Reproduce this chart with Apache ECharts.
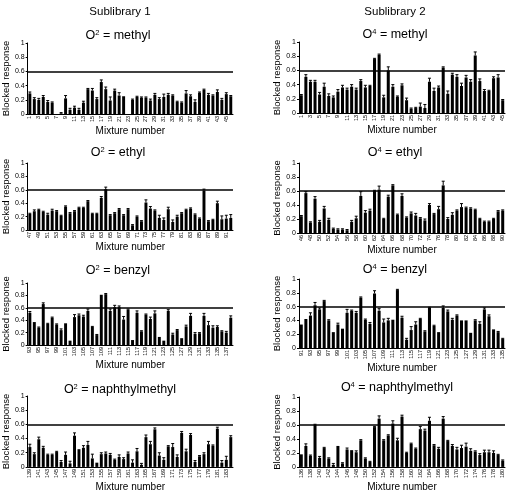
<!DOCTYPE html>
<html><head><meta charset="utf-8">
<script src="https://cdn.jsdelivr.net/npm/echarts@6/dist/echarts.min.js"></script>
<style>html,body{margin:0;padding:0;background:#fff}#c{width:512px;height:493px}</style>
</head><body><div id="c"></div>
<script>
// ---- Data ----
const yTicks = [0, 0.2, 0.4, 0.6, 0.8, 1];
const threshold = 0.6;

const o2MethylStart = 1;
const o2Methyl = [0.29,0.21,0.20,0.24,0.17,0.16,0,0.01,0.22,0.06, 0.09,0.06,0.16,0.35,0.33,0.21,0.45,0.35,0.19,0.33, 0.26,0.25,0,0.20,0.24,0.23,0.23,0.19,0.27,0.21, 0.24,0.27,0.26,0.17,0.16,0.29,0.25,0.17,0.30,0.34, 0.27,0.26,0.31,0.20,0.28,0.25];
const o2MethylErr = [0.02,0.02,0.02,0.02,0.02,0.01,0,0.01,0.04,0.02, 0.02,0.02,0.02,0.01,0.03,0.02,0.03,0.03,0.05,0.02, 0.04,0,0,0.01,0.01,0.01,0.01,0.02,0.02,0.02, 0.04,0.02,0.01,0.01,0.01,0.04,0.02,0.03,0.01,0.01, 0.02,0.01,0.03,0.02,0.02,0.01];

const o4MethylStart = 1;
const o4Methyl = [0.25,0.51,0.44,0.44,0.26,0.37,0.24,0.22,0.30,0.36, 0.33,0.37,0.33,0.45,0.36,0.38,0.76,0.82,0.22,0.60, 0.37,0.23,0.39,0.18,0.06,0.07,0.09,0.07,0.44,0.31, 0.36,0.64,0.27,0.54,0.51,0.38,0.50,0.44,0.81,0.45, 0.31,0.31,0.49,0.50,0.18];
const o4MethylErr = [0.01,0.03,0.02,0.02,0.03,0.05,0.03,0.02,0.03,0.03, 0.02,0.03,0.02,0.02,0.03,0.01,0.01,0.01,0.03,0.05, 0.03,0.01,0.02,0.03,0.01,0.01,0.05,0.05,0.05,0.04, 0.02,0.01,0.04,0.02,0.03,0.04,0.03,0.03,0.05,0.03, 0.02,0.01,0.02,0.04,0.01];

const o2EthylStart = 47;
const o2Ethyl = [0.24,0.28,0.30,0.27,0.23,0.29,0.28,0.21,0.35,0.25, 0.28,0.33,0.33,0.43,0.24,0.24,0.48,0.61,0.22,0.25, 0.31,0.22,0.31,0.07,0.20,0.13,0.41,0.32,0.29,0.18, 0.15,0.31,0.12,0.20,0.25,0.30,0.32,0.23,0.17,0.59, 0.13,0.15,0.40,0.16,0.17,0.18];
const o2EthylErr = [0.01,0.02,0.01,0.01,0.02,0.02,0.01,0.01,0.01,0.01, 0.01,0.01,0.01,0.01,0.01,0.01,0.02,0.03,0.01,0.01, 0.01,0.01,0.01,0.01,0.01,0.01,0.04,0.03,0.01,0.04, 0.03,0.03,0.03,0.02,0.01,0.01,0.01,0.01,0.01,0.02, 0.01,0.01,0.03,0.05,0.05,0.05];

const o4EthylStart = 46;
const o4Ethyl = [0.24,0.57,0.15,0.49,0.16,0.35,0.19,0.06,0.05,0.05, 0.04,0.16,0.21,0.53,0.29,0.32,0.60,0.62,0.20,0.52, 0.68,0.26,0.53,0.22,0.28,0.25,0.21,0.18,0.40,0.27, 0.34,0.68,0.20,0.26,0.32,0.37,0.36,0.35,0.33,0.20, 0.16,0.16,0.20,0.31,0.32];
const o4EthylErr = [0.01,0.02,0.01,0.03,0.02,0.03,0.02,0.01,0.01,0.01, 0.01,0.02,0.03,0.06,0.03,0.02,0.01,0.05,0.01,0.02, 0.01,0.01,0.03,0.01,0.02,0.03,0.01,0.02,0.02,0.01, 0.04,0.06,0.02,0.03,0.01,0.05,0.01,0.01,0.01,0.01, 0.01,0.01,0.01,0.01,0.01];

const o2BenzylStart = 93;
const o2Benzyl = [0.52,0.37,0.28,0.66,0.34,0.44,0.33,0.24,0.35,0.07, 0.45,0.48,0.46,0.55,0.29,0.16,0.81,0.82,0.55,0.61, 0.61,0.41,0.57,0.08,0.52,0.22,0.49,0.42,0.51,0.13, 0.07,0.55,0.17,0.24,0.11,0.30,0.47,0.18,0.19,0.47, 0.32,0.28,0.29,0.22,0.20,0.44];
const o2BenzylErr = [0.02,0,0.01,0.02,0.01,0.01,0.01,0.02,0,0, 0.04,0.02,0.02,0.03,0.01,0.01,0,0.01,0.03,0.03, 0.02,0.05,0.01,0,0.03,0.01,0.01,0.03,0.04,0, 0,0.02,0.02,0.01,0,0.02,0.04,0.02,0.01,0.04, 0.06,0.03,0.02,0.01,0.02,0.03];

const o4BenzylStart = 91;
const o4Benzyl = [0.34,0.42,0.47,0.62,0.56,0.68,0.40,0.23,0.34,0.28, 0.51,0.54,0.51,0.73,0.41,0.35,0.79,0.54,0.37,0.40, 0.41,0.84,0.44,0.12,0.26,0.34,0.42,0.24,0.58,0.32, 0.23,0.58,0.53,0.41,0.47,0.40,0.40,0.22,0.40,0.35, 0.56,0.46,0.27,0.23,0.13];
const o4BenzylErr = [0,0,0.04,0.04,0.02,0.01,0.01,0,0.02,0, 0.05,0.01,0.02,0.01,0.01,0.02,0.04,0.03,0.05,0.03, 0,0.01,0.02,0.02,0.05,0.04,0.01,0.01,0.01,0.01, 0,0.03,0.02,0.02,0.01,0,0,0,0.01,0.03, 0.02,0.02,0,0.01,0.01];

const o2NaphStart = 139;
const o2Naph = [0.28,0.18,0.39,0.27,0.17,0.17,0.21,0.07,0.17,0.05, 0.44,0.25,0.27,0.31,0.12,0.06,0.18,0.19,0.17,0.10, 0.14,0.11,0.19,0.06,0.22,0.03,0.42,0.32,0.53,0.16, 0.10,0.29,0.28,0.14,0.48,0.22,0.45,0.07,0.15,0.18, 0.32,0.30,0.54,0.06,0.10,0.42];
const o2NaphErr = [0.04,0.02,0.03,0.02,0.01,0.01,0.01,0.02,0.04,0.03, 0.04,0,0.03,0.05,0.06,0,0.02,0.02,0.02,0.01, 0.03,0.02,0.02,0.04,0.04,0.02,0.03,0.04,0.02,0.04, 0.03,0.01,0.05,0.03,0.02,0.03,0.02,0.02,0.01,0.02, 0.04,0.01,0.02,0.03,0.05,0.02];

const o4NaphStart = 136;
const o4Naph = [0.18,0.30,0.16,0.60,0.13,0.27,0.12,0.03,0.30,0.05, 0.25,0.24,0.21,0.38,0.12,0.07,0.57,0.69,0.38,0.45, 0.62,0.38,0.72,0.20,0.33,0.26,0.54,0.52,0.66,0.31, 0.26,0.69,0.37,0.30,0.25,0.27,0.29,0.23,0.22,0.17, 0.21,0.21,0.20,0.17,0.09];
const o4NaphErr = [0,0.03,0.01,0.01,0.02,0.01,0.01,0.02,0,0.01, 0.02,0,0.02,0.01,0.01,0.01,0.01,0.04,0.01,0.01, 0.04,0.03,0.02,0.01,0.01,0.01,0.04,0.02,0.05,0.01, 0.02,0.03,0.01,0.02,0.03,0.04,0.05,0.03,0.01,0.02, 0.03,0.03,0.03,0.01,0.01];

// ---- Layout ----
const FONT = '"Liberation Sans Narrow", "Liberation Sans", Arial, sans-serif';
const panels = [
  {sup:'2', name:'methyl', start:o2MethylStart, vals:o2Methyl, errs:o2MethylErr, left:27, top:43, height:71, tx:118, ty:36, gap:12},
  {sup:'4', name:'methyl', start:o4MethylStart, vals:o4Methyl, errs:o4MethylErr, left:299, top:42, height:71, tx:395, ty:35, gap:12},
  {sup:'2', name:'ethyl', start:o2EthylStart, vals:o2Ethyl, errs:o2EthylErr, left:27, top:163, height:67, tx:118, ty:153, gap:11},
  {sup:'4', name:'ethyl', start:o4EthylStart, vals:o4Ethyl, errs:o4EthylErr, left:299, top:163, height:70, tx:395, ty:153, gap:10},
  {sup:'2', name:'benzyl', start:o2BenzylStart, vals:o2Benzyl, errs:o2BenzylErr, left:27, top:283, height:62, tx:118, ty:271, gap:13},
  {sup:'4', name:'benzyl', start:o4BenzylStart, vals:o4Benzyl, errs:o4BenzylErr, left:299, top:279, height:69, tx:395, ty:270, gap:10},
  {sup:'2', name:'naphthylmethyl', start:o2NaphStart, vals:o2Naph, errs:o2NaphErr, left:27, top:396, height:73, tx:120, ty:390, gap:10},
  {sup:'4', name:'naphthylmethyl', start:o4NaphStart, vals:o4Naph, errs:o4NaphErr, left:299, top:397, height:72, tx:397, ty:388, gap:13}
];

const grid = [], xAxis = [], yAxis = [], series = [], graphic = [];
graphic.push({type:'text', x:120, y:12, style:{text:'Sublibrary 1', fontSize:11.5, fontFamily:FONT, fill:'#000', align:'center', verticalAlign:'middle'}});
graphic.push({type:'text', x:395, y:12, style:{text:'Sublibrary 2', fontSize:11.5, fontFamily:FONT, fill:'#000', align:'center', verticalAlign:'middle'}});

panels.forEach((p, i) => {
  const cats = p.vals.map((_, j) => String(p.start + j));
  grid.push({left:p.left, top:p.top, width:206, height:p.height});
  xAxis.push({
    gridIndex:i, type:'category', data:cats,
    axisLine:{lineStyle:{color:'#000', width:1}},
    axisTick:{show:false},
    axisLabel:{interval:1, rotate:90, fontSize:5.5, color:'#000', margin:2, fontFamily:FONT},
    name:'Mixture number', nameLocation:'middle', nameGap:p.gap,
    nameTextStyle:{fontSize:10, color:'#000', fontFamily:FONT}
  });
  yAxis.push({
    gridIndex:i, type:'value', min:yTicks[0], max:yTicks[yTicks.length-1], interval:0.2,
    axisLine:{show:true, lineStyle:{color:'#000', width:1}},
    axisTick:{show:true, length:2, lineStyle:{color:'#000'}},
    splitLine:{show:false},
    axisLabel:{fontSize:7, color:'#000', margin:3, fontFamily:FONT},
    name:'Blocked response', nameLocation:'middle', nameGap:15, nameRotate:90,
    nameTextStyle:{fontSize:9.5, color:'#000', fontFamily:FONT}
  });
  series.push({
    type:'bar', xAxisIndex:i, yAxisIndex:i, data:p.vals, barWidth:'66%',
    itemStyle:{color:'#000'}, silent:true,
    markLine:{silent:true, symbol:'none', label:{show:false}, animation:false,
      lineStyle:{color:'#000', width:1.5, type:'solid'}, data:[{yAxis:threshold}]}
  });
  series.push({
    type:'custom', xAxisIndex:i, yAxisIndex:i, z:3, silent:true,
    data:p.vals.map((v, j) => [j, v, p.errs[j]]),
    encode:{x:0, y:1},
    renderItem:(params, api) => {
      const v = api.value(1), e = api.value(2);
      if (!e) return null;
      const p0 = api.coord([api.value(0), v]);
      const p1 = api.coord([api.value(0), v + e]);
      const w = api.size([1, 0])[0] * 0.66;
      return {type:'group', children:[
        {type:'line', shape:{x1:p0[0], y1:p0[1], x2:p1[0], y2:p1[1]}, style:{stroke:'#000', lineWidth:1}},
        {type:'line', shape:{x1:p1[0]-w/2, y1:p1[1], x2:p1[0]+w/2, y2:p1[1]}, style:{stroke:'#000', lineWidth:1}}
      ]};
    }
  });
  graphic.push({type:'text', x:p.tx, y:p.ty, style:{
    text:'{b|O}{s|' + p.sup + '}{b| = ' + p.name + '}',
    rich:{b:{fontSize:12.5, fontFamily:FONT, fill:'#000', lineHeight:14}, s:{fontSize:7.5, fontFamily:FONT, fill:'#000', verticalAlign:'top'}},
    align:'center', verticalAlign:'middle'
  }});
});

const chart = echarts.init(document.getElementById('c'), null, {renderer:'canvas'});
chart.setOption({animation:false, backgroundColor:'#fff', grid, xAxis, yAxis, series, graphic});
</script>
</body></html>
